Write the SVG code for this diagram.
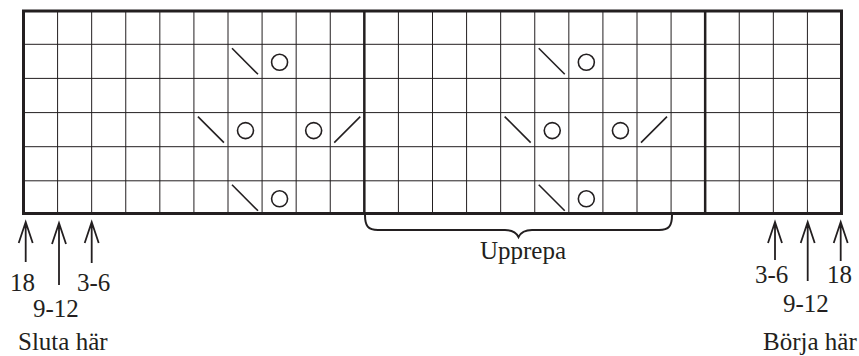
<svg xmlns="http://www.w3.org/2000/svg" xmlns:xlink="http://www.w3.org/1999/xlink" width="859" height="356" viewBox="0 0 859 356">
<style>
.g{stroke:#231f20;stroke-width:1;fill:none}
.thick{stroke:#231f20;stroke-width:3;fill:none}
.sep{stroke:#231f20;stroke-width:2.5;fill:none}
.sym{stroke:#231f20;stroke-width:1.6;fill:none}
.arr{stroke:#231f20;stroke-width:1.8;fill:none}
.t{font-family:"Liberation Serif","Times New Roman",serif;font-size:25px;fill:#231f20}
</style>
<defs>
<path id="bs" d="M4,4 L30,30"/>
<path id="fs" d="M4,30 L30,4"/>
<circle id="o" cx="17.5" cy="18" r="8"/>
</defs>
<rect width="859" height="356" fill="#fff"/>
<g id="grid">
<path class="g" d="M57.58,11V213.5M91.67,11V213.5M125.75,11V213.5M159.83,11V213.5M193.92,11V213.5M228,11V213.5M262.08,11V213.5M296.17,11V213.5M330.25,11V213.5M398.42,11V213.5M432.5,11V213.5M466.58,11V213.5M500.67,11V213.5M534.75,11V213.5M568.83,11V213.5M602.92,11V213.5M637,11V213.5M671.08,11V213.5M739.25,11V213.5M773.33,11V213.5M807.42,11V213.5"/>
<path class="g" d="M23.5,44.3H841.5M23.5,78.4H841.5M23.5,112.6H841.5M23.5,146.7H841.5M23.5,180.8H841.5"/>
<path class="sep" d="M364.33,11V213.5M705.17,11V213.5"/>
<rect class="thick" x="23.5" y="11" width="818" height="202.5"/>
</g>
<g id="symbols" class="sym">
<use xlink:href="#bs" x="228" y="44.3"/>
<use xlink:href="#o" x="262.08" y="44.3"/>
<use xlink:href="#bs" x="534.75" y="44.3"/>
<use xlink:href="#o" x="568.83" y="44.3"/>
<use xlink:href="#bs" x="193.92" y="112.6"/>
<use xlink:href="#o" x="228" y="112.6"/>
<use xlink:href="#o" x="296.17" y="112.6"/>
<use xlink:href="#fs" x="330.25" y="112.6"/>
<use xlink:href="#bs" x="500.67" y="112.6"/>
<use xlink:href="#o" x="534.75" y="112.6"/>
<use xlink:href="#o" x="602.92" y="112.6"/>
<use xlink:href="#fs" x="637" y="112.6"/>
<use xlink:href="#bs" x="228" y="180.8"/>
<use xlink:href="#o" x="262.08" y="180.8"/>
<use xlink:href="#bs" x="534.75" y="180.8"/>
<use xlink:href="#o" x="568.83" y="180.8"/>
</g>
<g id="connectors" class="arr">
<path d="M25.7,222V262M18.7,243L25.7,222L32.7,243"/>
<path d="M59,223V285M52,244L59,223L66,244"/>
<path d="M91.7,222V263M84.7,243L91.7,222L98.7,243"/>
<path d="M775,222V260M768,243L775,222L782,243"/>
<path d="M807.7,222V281M800.7,243L807.7,222L814.7,243"/>
<path d="M840.7,222V261M833.7,243L840.7,222L847.7,243"/>
<path id="brace" stroke-width="2" d="M365,215C365,226 368,230 378,230L505,230C512,230 516,232 518.5,237C521,232 525,230 532,230L659,230C669,230 672,226 672,215"/>
</g>
<g id="labels" class="t">
<text x="10" y="291">18</text>
<text x="77" y="291">3-6</text>
<text x="33" y="317">9-12</text>
<text x="18" y="350">Sluta här</text>
<text x="755" y="283">3-6</text>
<text x="827" y="283">18</text>
<text x="783" y="312">9-12</text>
<text x="763" y="350">Börja här</text>
<text x="523" y="259" text-anchor="middle">Upprepa</text>
</g>
</svg>
